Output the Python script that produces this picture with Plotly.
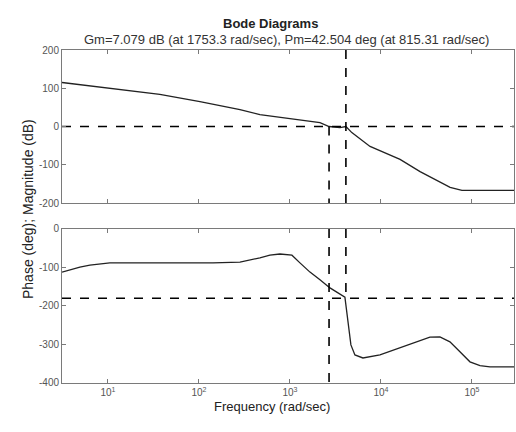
import math
import plotly.graph_objects as go

# Magnitude response (frequency in rad/sec, magnitude in dB)
mag_freq = [3.13, 10.5, 37.2, 102.6, 282.5, 467.7, 1000, 2138, 2692, 3548, 4121,
            4786, 7586, 16218, 26915, 57544, 77625, 289700]
mag_db = [115, 99, 84, 65, 44, 31, 21, 10, 0, -3, 0,
          -16, -52, -86, -118, -159, -167, -167]

# Phase response (frequency in rad/sec, phase in degrees)
ph_freq = [3.13, 4.92, 6.34, 10.5, 142.6, 282.5, 467.7, 602.6, 776.2, 1052, 1288,
           1660, 2138, 2754, 4018, 4335, 4677, 5176, 6339, 9750, 16180, 26850,
           34510, 44460, 57280, 73790, 95060, 122500, 157800, 289700]
ph_deg = [-112, -99, -94, -88, -88, -86, -75, -68, -65, -68, -88,
          -112, -132, -153, -177, -236, -301, -327, -335, -327, -309, -290,
          -281, -280, -293, -319, -345, -355, -358, -358]

# Crossover markers
w_gain_cross = 2690
w_phase_cross = 4120
mag_ref_db = 0
phase_ref_deg = -180

freq_range = [3.13, 289700]
x_ticks = [10, 100, 1000, 10000, 100000]
x_tick_text = ["10<sup>1</sup>", "10<sup>2</sup>", "10<sup>3</sup>", "10<sup>4</sup>", "10<sup>5</sup>"]
mag_ticks = [200, 100, 0, -100, -200]
ph_ticks = [0, -100, -200, -300, -400]

title_text = "<b>Bode Diagrams</b>"
subtitle_text = "Gm=7.079 dB (at 1753.3 rad/sec), Pm=42.504 deg (at 815.31 rad/sec)"

font_family = "Liberation Sans, Arial, sans-serif"
frame_color = "#7a7a7a"
curve_color = "#222222"

fig = go.Figure()

fig.add_trace(go.Scatter(x=mag_freq, y=mag_db, mode="lines",
                         line=dict(color=curve_color, width=1.3),
                         xaxis="x", yaxis="y", showlegend=False))
fig.add_trace(go.Scatter(x=ph_freq, y=ph_deg, mode="lines",
                         line=dict(color=curve_color, width=1.3),
                         xaxis="x2", yaxis="y2", showlegend=False))

dash = dict(color="black", width=1.6, dash="dash")

# Reference lines in the magnitude plot
fig.add_trace(go.Scatter(x=freq_range, y=[mag_ref_db, mag_ref_db], mode="lines", line=dash,
                         xaxis="x", yaxis="y", showlegend=False, hoverinfo="skip"))
fig.add_trace(go.Scatter(x=[w_gain_cross, w_gain_cross], y=[mag_ref_db, -200], mode="lines", line=dash,
                         xaxis="x", yaxis="y", showlegend=False, hoverinfo="skip"))
fig.add_trace(go.Scatter(x=[w_phase_cross, w_phase_cross], y=[200, -200], mode="lines", line=dash,
                         xaxis="x", yaxis="y", showlegend=False, hoverinfo="skip"))

# Reference lines in the phase plot
fig.add_trace(go.Scatter(x=freq_range, y=[phase_ref_deg, phase_ref_deg], mode="lines", line=dash,
                         xaxis="x2", yaxis="y2", showlegend=False, hoverinfo="skip"))
fig.add_trace(go.Scatter(x=[w_gain_cross, w_gain_cross], y=[0, -400], mode="lines", line=dash,
                         xaxis="x2", yaxis="y2", showlegend=False, hoverinfo="skip"))
fig.add_trace(go.Scatter(x=[w_phase_cross, w_phase_cross], y=[0, phase_ref_deg], mode="lines", line=dash,
                         xaxis="x2", yaxis="y2", showlegend=False, hoverinfo="skip"))

log_range = [math.log10(freq_range[0]), math.log10(freq_range[1])]

axis_common = dict(showline=True, linecolor=frame_color, linewidth=1, mirror="ticks",
                   ticks="inside", ticklen=4, tickcolor=frame_color, showgrid=False,
                   zeroline=False, tickfont=dict(size=10, color="#555555", family=font_family))

plot_w = 516 - 62 - 2
plot_h = 432 - 50 - 49


def px_x(px):
    return (px - 62) / plot_w


def px_y(py):
    return (432 - 49 - py) / plot_h


fig.update_layout(
    width=516, height=432,
    margin=dict(l=62, r=2, t=50, b=49),
    paper_bgcolor="white", plot_bgcolor="white",
    font=dict(family=font_family, color="#333333"),
    xaxis=dict(type="log", range=log_range, anchor="y", tickvals=x_ticks,
               showticklabels=False, **axis_common),
    yaxis=dict(domain=[0.5405, 1], range=[-200, 200], tickvals=mag_ticks,
               ticktext=[str(v) for v in mag_ticks], **axis_common),
    xaxis2=dict(type="log", range=log_range, anchor="y2", tickvals=x_ticks,
                ticktext=x_tick_text, **axis_common),
    yaxis2=dict(domain=[0, 0.4625], range=[-400, 0], tickvals=ph_ticks,
                ticktext=[str(v) for v in ph_ticks], **axis_common),
    annotations=[
        dict(text=title_text, x=px_x(270), y=px_y(14), xref="paper", yref="paper",
             showarrow=False, font=dict(size=13, color="#222222")),
        dict(text=subtitle_text, x=px_x(286), y=px_y(30), xref="paper", yref="paper",
             showarrow=False, font=dict(size=13, color="#333333")),
        dict(text="Frequency (rad/sec)", x=px_x(272), y=px_y(416), xref="paper", yref="paper",
             showarrow=False, font=dict(size=13, color="#222222")),
        dict(text="Phase (deg); Magnitude (dB)", x=px_x(18), y=px_y(209), xref="paper", yref="paper",
             showarrow=False, textangle=-90, font=dict(size=14, color="#222222")),
    ],
)

fig.write_html("out.html")
